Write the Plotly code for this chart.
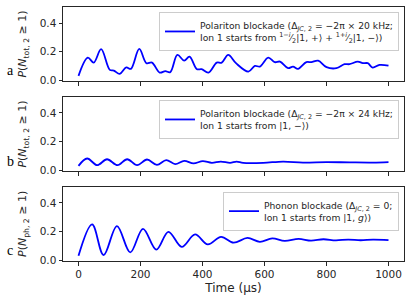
import plotly.graph_objects as go
from plotly.subplots import make_subplots

# ---- data ----
t_a = [0, 30, 49, 73, 101, 114, 133, 154, 169, 196, 219, 237, 262, 280, 296, 319, 341, 358,
       382, 397, 419, 446, 462, 483, 508, 548, 569, 585, 612, 633, 650, 676, 692, 708, 735,
       751, 773, 800, 832, 858, 874, 901, 917, 933, 949, 971, 1000]
p_a = [0.030, 0.158, 0.123, 0.217, 0.072, 0.067, 0.044, 0.090, 0.079, 0.219, 0.119, 0.123,
       0.053, 0.063, 0.056, 0.177, 0.137, 0.165, 0.077, 0.077, 0.053, 0.123, 0.123, 0.177,
       0.119, 0.060, 0.100, 0.095, 0.158, 0.126, 0.130, 0.084, 0.095, 0.079, 0.126, 0.126,
       0.137, 0.091, 0.084, 0.112, 0.112, 0.130, 0.119, 0.119, 0.088, 0.107, 0.102]

t_b = [0, 28, 60, 92, 126, 157, 189, 221, 253, 283, 312, 341, 371, 401, 430, 459, 489, 510,
       531, 596, 660, 724, 800, 875, 950, 1000]
p_b = [0.032, 0.083, 0.037, 0.078, 0.037, 0.078, 0.037, 0.076, 0.039, 0.072, 0.044, 0.067,
       0.049, 0.065, 0.053, 0.062, 0.053, 0.062, 0.053, 0.053, 0.062, 0.055, 0.058, 0.056,
       0.055, 0.058]

t_c = [0, 44, 81, 124, 167, 208, 251, 290, 333, 376, 417, 460, 500, 545, 585, 625, 665, 710,
       750, 790, 830, 870, 910, 950, 1000]
p_c = [0.030, 0.250, 0.035, 0.238, 0.054, 0.219, 0.074, 0.198, 0.093, 0.180, 0.110, 0.163,
       0.122, 0.155, 0.128, 0.152, 0.134, 0.148, 0.136, 0.146, 0.138, 0.144, 0.139, 0.143,
       0.140]

names = [
    "Polariton blockade (Δ<sub><i>JC</i>, 2</sub> = −2π × 20 kHz;<br>"
    "Ion 1 starts from <sup>1−<i>i</i></sup>⁄<sub>2</sub>|1, +⟩ + <sup>1+<i>i</i></sup>⁄<sub>2</sub>|1, −⟩)",
    "Polariton blockade (Δ<sub><i>JC</i>, 2</sub> = −2π × 24 kHz;<br>"
    "Ion 1 starts from |1, −⟩)",
    "Phonon blockade (Δ<sub><i>JC</i>, 2</sub> = 0;<br>"
    "Ion 1 starts from |1, <i>g</i>⟩)",
]
ytitles = [
    "<i>P</i>(<i>N</i><sub>tot, 2</sub> ≥ 1)",
    "<i>P</i>(<i>N</i><sub>tot, 2</sub> ≥ 1)",
    "<i>P</i>(<i>N</i><sub>ph, 2</sub> ≥ 1)",
]
panel_letters = ["a", "b", "c"]
x_ticks = [0, 200, 400, 600, 800, 1000]
y_ticks = [0.0, 0.2, 0.4]
x_title = "Time (µs)"

W, H = 409, 300
L, R, T, B = 63, 5, 7, 39
plot_h = H - T - B
# panel pixel boxes (top, bottom)
boxes = [(7, 81), (96.7, 171.3), (186.7, 261)]
doms = [[(H - B - b) / plot_h, (H - B - t) / plot_h] for t, b in boxes]

fig = make_subplots(rows=3, cols=1)
series = [(t_a, p_a), (t_b, p_b), (t_c, p_c)]
legend_names = ["legend", "legend2", "legend3"]
for i, (tt, pp) in enumerate(series):
    fig.add_trace(go.Scatter(x=tt, y=pp, mode="lines", name=names[i],
                             line=dict(color="#0000ff", width=1.8, shape="spline", smoothing=1.0),
                             legend=legend_names[i], showlegend=True),
                  row=i + 1, col=1)

font_main = "DejaVu Sans"
axis_common = dict(showline=True, linecolor="#262626", linewidth=1, mirror=True,
                   ticks="outside", ticklen=3.5, tickwidth=1, tickcolor="#262626",
                   showgrid=False, zeroline=False,
                   tickfont=dict(family=font_main, size=10.5, color="#262626"))

for i in range(3):
    xa = "xaxis" if i == 0 else f"xaxis{i+1}"
    ya = "yaxis" if i == 0 else f"yaxis{i+1}"
    fig.layout[xa].update(range=[-50, 1050], tickvals=x_ticks, showticklabels=(i == 2),
                          **axis_common)
    fig.layout[ya].update(range=[-0.006, 0.513], tickvals=y_ticks, tickformat=".1f",
                          domain=doms[i], **axis_common)
    fig.layout[ya].title = dict(text=ytitles[i], standoff=10,
                                font=dict(family=font_main, size=11, color="#262626"))

fig.layout.xaxis3.title = dict(text=x_title, standoff=4,
                               font=dict(family=font_main, size=12, color="#262626"))

legend_tops = [12, 100, 191.7]
leg_common = dict(xanchor="right", yanchor="top", x=(399 - L) / (W - L - R),
                  bgcolor="rgba(255,255,255,0.8)", bordercolor="#cccccc", borderwidth=1,
                  font=dict(family=font_main, size=9.2, color="#262626"),
                  itemwidth=30, tracegroupgap=0)
fig.update_layout(
    legend=dict(y=(H - B - legend_tops[0]) / plot_h, **leg_common),
    legend2=dict(y=(H - B - legend_tops[1]) / plot_h, **leg_common),
    legend3=dict(y=(H - B - legend_tops[2]) / plot_h, **leg_common),
)

letter_y = [80, 171, 260]
for i, ly in enumerate(letter_y):
    fig.add_annotation(text=panel_letters[i], xref="paper", yref="paper",
                       x=(10 - L) / (W - L - R), y=(H - B - ly) / plot_h,
                       xanchor="center", yanchor="bottom", showarrow=False,
                       font=dict(family="Liberation Serif", size=14, color="#000000"))

fig.update_layout(width=W, height=H, margin=dict(l=L, r=R, t=T, b=B, autoexpand=False),
                  paper_bgcolor="white", plot_bgcolor="white", showlegend=True)

fig.write_html("out.html", config={"displayModeBar": False},
               post_script="document.body.style.margin='0';")
